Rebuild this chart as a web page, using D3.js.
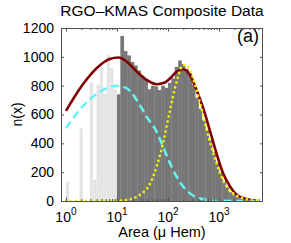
<!DOCTYPE html>
<html>
<head>
<meta charset="utf-8">
<script src="https://cdn.jsdelivr.net/npm/d3@7"></script>
<style>
body { margin: 0; background: #fff; }
text { font-family: "Liberation Sans", Arial, Helvetica, sans-serif; fill: #000; }
</style>
</head>
<body>
<svg id="chart" width="291" height="243"></svg>
<script>
// histogram: 15 log bins per decade, first bin starts at 1 uHem
var binsPerDecade = 15;
// bins below 10 uHem (light) and from 10 uHem up (dark)
var lightCounts = [130, 0, 0, 0, 500, 0, 0, 820, 145, 805, 925, 740, 1010, 920, 770];
var darkCounts = [740, 1145, 1040, 1010, 965, 940, 905, 870, 840, 775,
                  800, 795, 770, 800, 785, 820, 850, 930, 975, 950,
                  915, 885, 805, 715, 640, 560, 490, 420, 340, 265,
                  200, 140, 95, 60, 40, 25, 15, 10, 6, 4, 2];

// fitted curves
var totalX = [1, 2.1, 4.7, 7.2, 10.7, 15.5, 24.5, 38, 60, 87, 110, 148, 200, 270, 363, 490, 660, 890, 1200, 1660, 2240, 3470, 5500];
var totalY = [625, 805, 944, 985, 995, 967, 897, 840, 810, 822, 850, 897, 914, 874, 770, 645, 492, 333, 194, 99, 42, 14, 2];
var smallX = [1, 2.1, 4.7, 10, 15.5, 24.5, 38, 60, 80, 110, 148, 200, 270, 363, 490, 710, 1260, 5500];
var smallY = [505, 654, 758, 800, 782, 700, 585, 480, 377, 261, 169, 99, 53, 25, 12, 4, 1, 0];
var largeX = [1, 10, 15.8, 21, 28, 45, 60, 81, 110, 148, 186, 214, 270, 340, 427, 575, 776, 1050, 1410, 1900, 3020, 4680, 5750];
var largeY = [0, 2, 8, 18, 42, 122, 238, 410, 631, 828, 932, 944, 909, 805, 678, 492, 331, 192, 99, 53, 18, 3, 0];

var yTicks = [0, 200, 400, 600, 800, 1000, 1200];
var xTicks = [1, 10, 100, 1000];
var xTickExp = ['0', '1', '2', '3'];

var pLeft = 61, pRight = 263, pTop = 28, pBottom = 201;

var xs = d3.scaleLog().domain([0.8, 7300]).range([pLeft, pRight]);
var ys = d3.scaleLinear().domain([0, 1200]).range([pBottom, pTop]);

var svg = d3.select('#chart');

svg.append('clipPath').attr('id', 'plotclip')
    .append('rect')
    .attr('x', pLeft).attr('y', pTop)
    .attr('width', pRight - pLeft).attr('height', pBottom - pTop);

var plot = svg.append('g').attr('clip-path', 'url(#plotclip)');

function binLo(i) { return Math.pow(10, i / binsPerDecade); }
function binHi(i) { return Math.pow(10, (i + 1) / binsPerDecade); }

// light bars
plot.append('g')
    .selectAll('rect')
    .data(lightCounts)
    .enter()
    .append('rect')
    .attr('x', function(d, i) { return xs(binLo(i)) + 0.4; })
    .attr('width', function(d, i) { return xs(binHi(i)) - xs(binLo(i)) - 1; })
    .attr('y', function(d) { return ys(d); })
    .attr('height', function(d) { return pBottom - ys(d); })
    .attr('fill', '#e8e8e8')
    .attr('stroke', function(d) { return d > 0 ? '#b4b4b4' : 'none'; })
    .attr('stroke-width', 0.5)
    .attr('stroke-dasharray', '0.8,0.8');

// dark bars
var off = lightCounts.length;
plot.append('g')
    .selectAll('rect')
    .data(darkCounts)
    .enter()
    .append('rect')
    .attr('x', function(d, i) { return xs(binLo(i + off)); })
    .attr('width', function(d, i) { return xs(binHi(i + off)) - xs(binLo(i + off)) + 0.3; })
    .attr('y', function(d) { return ys(d); })
    .attr('height', function(d) { return pBottom - ys(d); })
    .attr('fill', '#777777');

var line = d3.line()
    .x(function(d) { return xs(d[0]); })
    .y(function(d) { return ys(d[1]); })
    .curve(d3.curveMonotoneX);

plot.append('path')
    .attr('d', line(d3.zip(totalX, totalY)))
    .attr('fill', 'none')
    .attr('stroke', '#800000')
    .attr('stroke-width', 2.6);

plot.append('path')
    .attr('d', line(d3.zip(smallX, smallY)))
    .attr('fill', 'none')
    .attr('stroke', '#66f4f4')
    .attr('stroke-width', 2.5)
    .attr('stroke-dasharray', '8,4.5');

plot.append('path')
    .attr('d', line(d3.zip(largeX, largeY)))
    .attr('fill', 'none')
    .attr('stroke', '#f4f400')
    .attr('stroke-width', 2.7)
    .attr('stroke-linecap', 'round')
    .attr('stroke-dasharray', '0,5');

// axes box and ticks
var axisColor = '#505050';

var minor = [];
[1, 10, 100, 1000].forEach(function(dec) {
    for (var m = 2; m <= 9; m++) { if (dec * m < 7300) minor.push(dec * m); }
});

function tickStyle(g) {
    g.select('.domain').remove();
    g.selectAll('line').attr('stroke', axisColor);
}

svg.append('g')
    .attr('transform', 'translate(' + pLeft + ',0)')
    .call(d3.axisLeft(ys).tickValues(yTicks).tickSize(-3).tickPadding(7).tickFormat(d3.format('d')))
    .call(tickStyle)
    .selectAll('text')
    .attr('font-size', 14)
    .attr('font-family', '"Liberation Sans", Arial, sans-serif');

svg.append('g')
    .attr('transform', 'translate(' + pRight + ',0)')
    .call(d3.axisRight(ys).tickValues(yTicks).tickSize(-3).tickFormat(''))
    .call(tickStyle);

svg.append('g')
    .attr('transform', 'translate(0,' + pBottom + ')')
    .call(d3.axisBottom(xs).tickValues(xTicks).tickSize(-3.5).tickFormat(''))
    .call(tickStyle);
svg.append('g')
    .attr('transform', 'translate(0,' + pBottom + ')')
    .call(d3.axisBottom(xs).tickValues(minor).tickSize(-2).tickFormat(''))
    .call(tickStyle);
svg.append('g')
    .attr('transform', 'translate(0,' + pTop + ')')
    .call(d3.axisTop(xs).tickValues(xTicks).tickSize(-3.5).tickFormat(''))
    .call(tickStyle);
svg.append('g')
    .attr('transform', 'translate(0,' + pTop + ')')
    .call(d3.axisTop(xs).tickValues(minor).tickSize(-2).tickFormat(''))
    .call(tickStyle);

svg.append('rect')
    .attr('x', pLeft + 0.5).attr('y', pTop + 0.5)
    .attr('width', pRight - pLeft - 1).attr('height', pBottom - pTop)
    .attr('fill', 'none')
    .attr('stroke', axisColor)
    .attr('stroke-width', 1);

// x tick labels 10^n
var xl = svg.append('g')
    .selectAll('text')
    .data(xTicks)
    .enter()
    .append('text')
    .attr('x', function(d) { return xs(d); })
    .attr('y', 222)
    .attr('text-anchor', 'middle')
    .attr('font-size', 14);
xl.append('tspan').text('10');
xl.append('tspan')
    .attr('dy', -7)
    .attr('font-size', 10)
    .text(function(d, i) { return xTickExp[i]; });

// labels
svg.append('text')
    .attr('x', (pLeft + pRight) / 2)
    .attr('y', 237)
    .attr('text-anchor', 'middle')
    .attr('font-size', 14.5)
    .text('Area (\u03bc Hem)');

svg.append('text')
    .attr('transform', 'translate(22,' + ((pTop + pBottom) / 2) + ') rotate(-90)')
    .attr('text-anchor', 'middle')
    .attr('font-size', 14)
    .text('n(x)');

svg.append('text')
    .attr('x', (pLeft + pRight) / 2)
    .attr('y', 16)
    .attr('text-anchor', 'middle')
    .attr('font-size', 15.5)
    .text('RGO\u2013KMAS Composite Data');

svg.append('text')
    .attr('x', 259)
    .attr('y', 42)
    .attr('text-anchor', 'end')
    .attr('font-size', 18)
    .text('(a)');
</script>
</body>
</html>
